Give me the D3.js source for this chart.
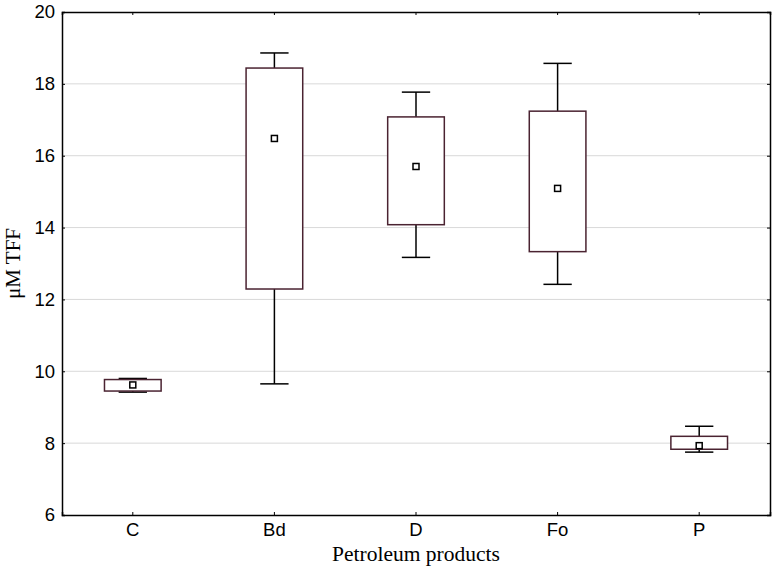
<!DOCTYPE html>
<html>
<head>
<meta charset="utf-8">
<script src="https://cdn.jsdelivr.net/npm/d3@7"></script>
<style>
body { margin: 0; background: #fff; }
</style>
</head>
<body>
<div id="chart"></div>
<script>
var categories = ["C", "Bd", "D", "Fo", "P"];
var whiskerLow = [9.42, 9.65, 13.17, 12.42, 7.75];
var boxLow = [9.45, 12.29, 14.08, 13.33, 7.83];
var means = [9.62, 16.48, 15.7, 15.09, 7.93];
var boxHigh = [9.77, 18.44, 17.08, 17.24, 8.19];
var whiskerHigh = [9.8, 18.86, 17.77, 18.57, 8.47];
var yTicks = [6, 8, 10, 12, 14, 16, 18, 20];

var width = 775, height = 574;
var margin = { top: 12, right: 5, bottom: 59, left: 62 };

var svg = d3.select("#chart").append("svg")
    .attr("width", width)
    .attr("height", height);

var x = d3.scaleBand()
    .domain(categories)
    .range([margin.left, width - margin.right]);

var y = d3.scaleLinear()
    .domain([6, 20])
    .range([height - margin.bottom, margin.top]);

// gridlines
svg.append("g")
    .selectAll("line")
    .data(yTicks.slice(1, -1))
    .enter().append("line")
    .attr("x1", margin.left)
    .attr("x2", width - margin.right)
    .attr("y1", function(d) { return y(d); })
    .attr("y2", function(d) { return y(d); })
    .style("stroke", "#d9d9d9")
    .style("stroke-width", 1);

var data = categories.map(function(c, i) {
    return { cat: c, wl: whiskerLow[i], bl: boxLow[i], m: means[i], bh: boxHigh[i], wh: whiskerHigh[i] };
});

var boxW = x.bandwidth() * 0.4;
var capW = boxW / 2;

var g = svg.append("g").selectAll(".box").data(data).enter().append("g");

function cx(d) { return x(d.cat) + x.bandwidth() / 2; }

// whiskers
g.append("line")
    .attr("x1", cx).attr("x2", cx)
    .attr("y1", function(d) { return y(d.bh); })
    .attr("y2", function(d) { return y(d.wh); })
    .style("stroke", "#000").style("stroke-width", 1.5);
g.append("line")
    .attr("x1", cx).attr("x2", cx)
    .attr("y1", function(d) { return y(d.bl); })
    .attr("y2", function(d) { return y(d.wl); })
    .style("stroke", "#000").style("stroke-width", 1.5);
g.append("line")
    .attr("x1", function(d) { return cx(d) - capW / 2; })
    .attr("x2", function(d) { return cx(d) + capW / 2; })
    .attr("y1", function(d) { return y(d.wh); })
    .attr("y2", function(d) { return y(d.wh); })
    .style("stroke", "#000").style("stroke-width", 1.5);
g.append("line")
    .attr("x1", function(d) { return cx(d) - capW / 2; })
    .attr("x2", function(d) { return cx(d) + capW / 2; })
    .attr("y1", function(d) { return y(d.wl); })
    .attr("y2", function(d) { return y(d.wl); })
    .style("stroke", "#000").style("stroke-width", 1.5);

// boxes
g.append("rect")
    .attr("x", function(d) { return cx(d) - boxW / 2; })
    .attr("y", function(d) { return y(d.bh); })
    .attr("width", boxW)
    .attr("height", function(d) { return y(d.bl) - y(d.bh); })
    .style("fill", "#fff")
    .style("stroke", "#4a2331")
    .style("stroke-width", 1.5);

// mean markers
g.append("rect")
    .attr("x", function(d) { return cx(d) - 3; })
    .attr("y", function(d) { return y(d.m) - 3; })
    .attr("width", 6)
    .attr("height", 6)
    .style("fill", "#fff")
    .style("stroke", "#000")
    .style("stroke-width", 1.5);

// axes
var tickFont = "Liberation Sans, Arial, sans-serif";

var yAxis = svg.append("g")
    .attr("transform", "translate(" + margin.left + ",0)")
    .call(d3.axisLeft(y).tickValues(yTicks).tickSize(-3).tickPadding(7).tickFormat(d3.format("d")));
yAxis.selectAll("text").style("font-family", tickFont).style("font-size", "18.5px").style("fill", "#000");

var xAxis = svg.append("g")
    .attr("transform", "translate(0," + (height - margin.bottom) + ")")
    .call(d3.axisBottom(x).tickSize(-3).tickPadding(8));
xAxis.selectAll("text").style("font-family", tickFont).style("font-size", "18.5px").style("fill", "#000");

svg.append("g")
    .attr("transform", "translate(0," + margin.top + ")")
    .call(d3.axisTop(x).tickSize(-3).tickFormat(""));
svg.append("g")
    .attr("transform", "translate(" + (width - margin.right) + ",0)")
    .call(d3.axisRight(y).tickValues(yTicks).tickSize(-3).tickFormat(""));

svg.selectAll(".domain").style("stroke", "#000").style("stroke-width", 1.5);
svg.selectAll(".tick line").style("stroke", "#000");

// titles
svg.append("text")
    .attr("x", (margin.left + width - margin.right) / 2)
    .attr("y", 561)
    .attr("text-anchor", "middle")
    .style("font-family", "Liberation Serif, Times New Roman, serif")
    .style("font-size", "21.5px")
    .text("Petroleum products");

svg.append("text")
    .attr("transform", "translate(20," + ((margin.top + height - margin.bottom) / 2) + ") rotate(-90)")
    .attr("text-anchor", "middle")
    .style("font-family", "Liberation Serif, Times New Roman, serif")
    .style("font-size", "21px")
    .text("μM TFF");
</script>
</body>
</html>
